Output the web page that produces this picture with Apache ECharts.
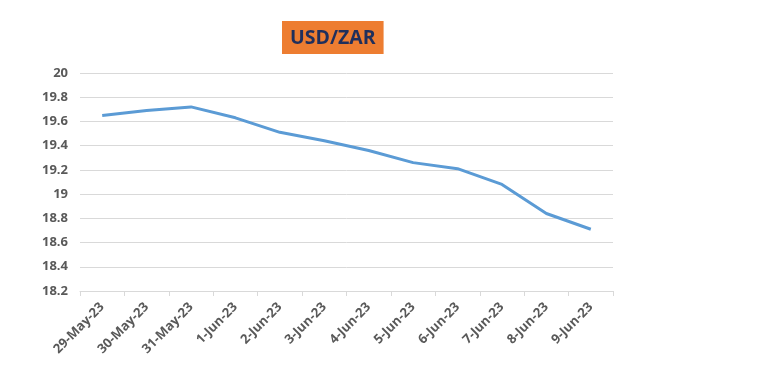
<!DOCTYPE html>
<html>
<head>
<meta charset="utf-8">
<script src="https://cdn.jsdelivr.net/npm/echarts@6/dist/echarts.min.js"></script>
<style>html,body{margin:0;padding:0;background:#fff;}#c{width:760px;height:372px;}</style>
</head>
<body>
<div id="c"></div>
<script>
var categories = ['29-May-23','30-May-23','31-May-23','1-Jun-23','2-Jun-23','3-Jun-23','4-Jun-23','5-Jun-23','6-Jun-23','7-Jun-23','8-Jun-23','9-Jun-23'];
var usdZar = [19.65, 19.69, 19.72, 19.63, 19.51, 19.44, 19.36, 19.26, 19.21, 19.08, 18.84, 18.71];
var yTicks = [18.2, 20, 0.2];

var chart = echarts.init(document.getElementById('c'), null, {renderer: 'canvas'});
chart.setOption({
  animation: false,
  backgroundColor: '#ffffff',
  title: {
    text: 'USD/ZAR',
    left: 282,
    top: 21,
    backgroundColor: '#ED7D31',
    padding: [7, 8, 6, 8],
    textStyle: {fontFamily: 'Open Sans', fontWeight: 'bold', fontSize: 19.5, color: '#1F2F5C'}
  },
  grid: {left: 80, right: 147, top: 73, bottom: 81},
  xAxis: {
    type: 'category',
    data: categories,
    boundaryGap: true,
    axisLine: {lineStyle: {color: '#D9D9D9', width: 1}},
    axisTick: {show: true, length: 5, lineStyle: {color: '#D9D9D9'}},
    axisLabel: {rotate: 45, interval: 0, color: '#595959', fontWeight: 'bold', fontSize: 13, fontFamily: 'Open Sans', margin: 14}
  },
  yAxis: {
    type: 'value',
    min: yTicks[0],
    max: yTicks[1],
    interval: yTicks[2],
    axisLine: {show: false},
    axisTick: {show: false},
    splitLine: {lineStyle: {color: '#D9D9D9', width: 1}},
    axisLabel: {color: '#595959', fontWeight: 'bold', fontSize: 13, fontFamily: 'Open Sans', margin: 12,
      formatter: function (v) { return String(Math.round(v * 10) / 10); }}
  },
  series: [{
    type: 'line',
    data: usdZar,
    symbol: 'none',
    lineStyle: {color: '#5B9BD5', width: 3}
  }]
});
</script>
</body>
</html>
